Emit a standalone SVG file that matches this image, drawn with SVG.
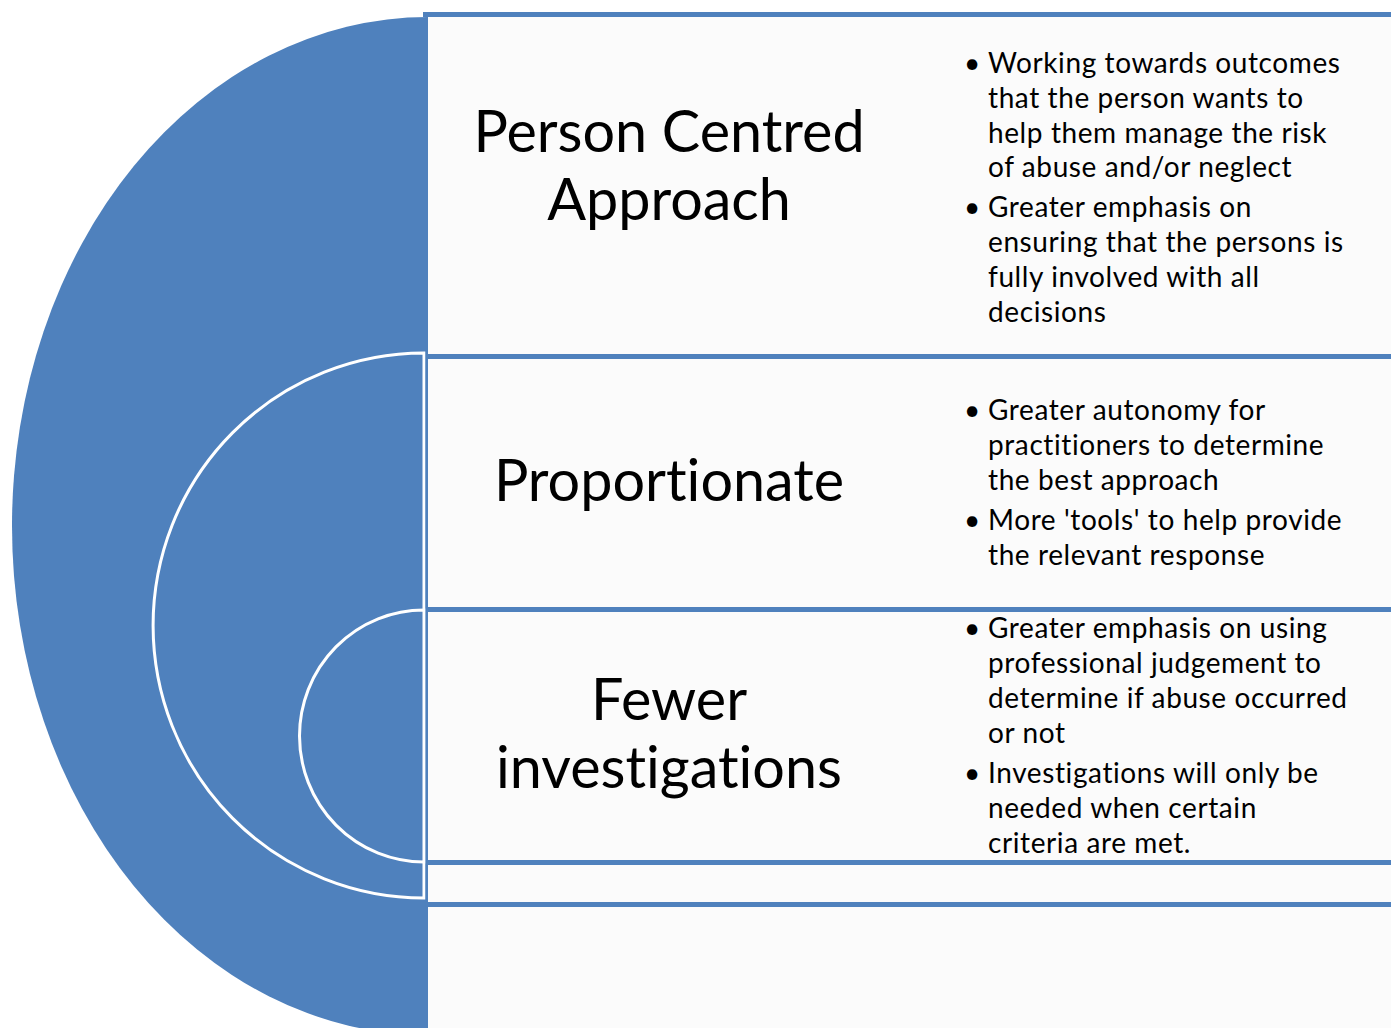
<svg xmlns="http://www.w3.org/2000/svg" width="1391" height="1028" viewBox="0 0 1391 1028">
  <style>
    .panel { fill: #fbfbfb; }
    .border { stroke: #4f81bd; stroke-width: 5; fill: none; }
    .blue { fill: #4f81bd; }
    .ring { fill: #4f81bd; stroke: #ffffff; stroke-width: 3; }
    text { font-variant-ligatures: none; font-feature-settings: "liga" 0, "clig" 0; }
    .title { font-family: Lato, "Liberation Sans", sans-serif; font-size: 57.5px; fill: #000; text-anchor: middle; }
    .bul { font-family: Lato, "Liberation Sans", sans-serif; font-size: 28px; letter-spacing: 0.6px; fill: #000; }
  </style>
  <rect x="0" y="0" width="1391" height="1028" fill="#ffffff"/>
  <g id="panels">
    <rect class="panel" x="428" y="14" width="963" height="1014"/>
  </g>
  <g id="arcs">
    <path class="blue" d="M 428 17 A 416 509 0 0 0 428 1035 Z"/>
    <path class="ring" d="M 424 353 A 271 272.5 0 0 0 424 898 Z"/>
    <path class="ring" d="M 424 610 A 124.5 126 0 0 0 424 862 Z"/>
    <rect class="blue" x="425.5" y="340" width="2.5" height="570"/>
  </g>
  <g id="connectors">
    <line class="border" x1="423" y1="14.5" x2="1391" y2="14.5"/>
    <line class="border" x1="426" y1="356.5" x2="1391" y2="356.5"/>
    <line class="border" x1="426" y1="609.5" x2="1391" y2="609.5"/>
    <line class="border" x1="426" y1="862.5" x2="1391" y2="862.5"/>
    <line class="border" x1="426" y1="904.5" x2="1391" y2="904.5"/>
  </g>
  <g id="node-person-centred">
    <text class="title" x="669" y="152">Person Centred</text>
    <text class="title" x="669" y="220">Approach</text>
    <text class="bul" x="964" y="73">•</text>
    <text class="bul" x="988" y="73">Working towards outcomes</text>
    <text class="bul" x="988" y="108">that the person wants to</text>
    <text class="bul" x="988" y="143">help them manage the risk</text>
    <text class="bul" x="988" y="177">of abuse and/or neglect</text>
    <text class="bul" x="964" y="217">•</text>
    <text class="bul" x="988" y="217">Greater emphasis on</text>
    <text class="bul" x="988" y="252">ensuring that the persons is</text>
    <text class="bul" x="988" y="287">fully involved with all</text>
    <text class="bul" x="988" y="322">decisions</text>
  </g>
  <g id="node-proportionate">
    <text class="title" x="669" y="501">Proportionate</text>
    <text class="bul" x="964" y="420">•</text>
    <text class="bul" x="988" y="420">Greater autonomy for</text>
    <text class="bul" x="988" y="455">practitioners to determine</text>
    <text class="bul" x="988" y="490">the best approach</text>
    <text class="bul" x="964" y="530">•</text>
    <text class="bul" x="988" y="530">More 'tools' to help provide</text>
    <text class="bul" x="988" y="565">the relevant response</text>
  </g>
  <g id="node-fewer">
    <text class="title" x="669" y="720">Fewer</text>
    <text class="title" x="669" y="788">investigations</text>
    <text class="bul" x="964" y="638">•</text>
    <text class="bul" x="988" y="638">Greater emphasis on using</text>
    <text class="bul" x="988" y="673">professional judgement to</text>
    <text class="bul" x="988" y="708">determine if abuse occurred</text>
    <text class="bul" x="988" y="743">or not</text>
    <text class="bul" x="964" y="783">•</text>
    <text class="bul" x="988" y="783">Investigations will only be</text>
    <text class="bul" x="988" y="818">needed when certain</text>
    <text class="bul" x="988" y="853">criteria are met.</text>
  </g>
</svg>
